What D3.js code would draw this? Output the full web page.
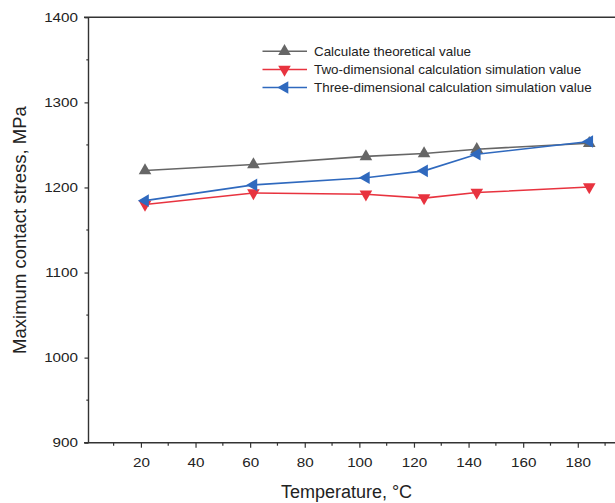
<!DOCTYPE html>
<html>
<head>
<meta charset="utf-8">
<script src="https://cdn.jsdelivr.net/npm/d3@7/dist/d3.min.js"></script>
<style>
  html, body { margin: 0; padding: 0; background: #fff; }
  svg { display: block; font-family: "Liberation Sans", Arial, sans-serif; }
</style>
</head>
<body>
<svg id="chart" width="615" height="503"></svg>
<script>
// ---- data ----
const temperatures = [21.5, 61.2, 102.4, 123.7, 143, 184.2];
const theoretical   = [1220, 1227, 1236.5, 1240, 1245, 1252];
const twoDim        = [1180, 1193.5, 1192, 1187.5, 1194, 1200.5];
const threeDim      = [1184.5, 1203, 1211.5, 1219.5, 1239, 1254];
const seriesNames = [
  "Calculate theoretical value",
  "Two-dimensional calculation simulation value",
  "Three-dimensional calculation simulation value"
];
const xTickValues = [20, 40, 60, 80, 100, 120, 140, 160, 180];
const xMinorTicks = [10, 30, 50, 70, 90, 110, 130, 150, 170, 190];
const yTickValues = [900, 1000, 1100, 1200, 1300, 1400];
const yMinorTicks = [950, 1050, 1150, 1250, 1350];
const xTitle = "Temperature, °C";
const yTitle = "Maximum contact stress, MPa";

// ---- layout ----
const svg = d3.select("#chart");
const plotLeft = 88.5, plotTop = 17.3, plotBottom = 442.7;
const x = d3.scaleLinear().domain([0.8, 200]).range([plotLeft, 632.4]);
const y = d3.scaleLinear().domain([900, 1400]).range([plotBottom, plotTop]);
const axisColor = "#333";
const sx = 1.27; // horizontal stretch of tick labels in the reference

// top frame line
svg.append("line")
  .attr("x1", plotLeft - 4.5).attr("x2", 615)
  .attr("y1", y(1400)).attr("y2", y(1400))
  .attr("stroke", axisColor).attr("stroke-width", 1.4);

// y axis
const gy = svg.append("g").attr("transform", `translate(${plotLeft},0)`)
  .call(d3.axisLeft(y).tickValues(yTickValues).tickSize(4).tickPadding(10.5).tickFormat(d3.format("d")));
gy.select(".domain").attr("stroke", axisColor).attr("stroke-width", 1.4).attr("d", `M0,${y(1400)}V${y(900)}`);
gy.selectAll(".tick line").attr("stroke", axisColor).attr("stroke-width", 1.2);
gy.selectAll(".tick text")
  .attr("font-size", 12).attr("fill", "#222")
  .attr("x", -10.5 / sx).attr("transform", `scale(${sx},1)`);
gy.selectAll(".minor").data(yMinorTicks).enter().append("line")
  .attr("x1", -2.2).attr("x2", 0).attr("y1", d => y(d)).attr("y2", d => y(d))
  .attr("stroke", axisColor).attr("stroke-width", 1.2);

// x axis
const gx = svg.append("g").attr("transform", `translate(0,${plotBottom})`)
  .call(d3.axisBottom(x).tickValues(xTickValues).tickSize(5).tickPadding(11));
gx.select(".domain").attr("stroke", axisColor).attr("stroke-width", 1.4).attr("d", `M${plotLeft - 4.5},0H615`);
gx.selectAll(".tick line").attr("stroke", axisColor).attr("stroke-width", 1.2);
gx.selectAll(".tick text")
  .attr("font-size", 12).attr("fill", "#222")
  .attr("transform", `scale(${sx},1)`);
gx.selectAll(".minor").data(xMinorTicks).enter().append("line")
  .attr("x1", d => x(d)).attr("x2", d => x(d)).attr("y1", 0).attr("y2", 3)
  .attr("stroke", axisColor).attr("stroke-width", 1.2);

// axis titles
svg.append("text")
  .attr("x", 346.5).attr("y", 498)
  .attr("text-anchor", "middle").attr("font-size", 18).attr("fill", "#222")
  .text(xTitle);
svg.append("text")
  .attr("transform", `translate(25.5,${(plotTop + plotBottom) / 2}) rotate(-90)`)
  .attr("text-anchor", "middle").attr("font-size", 18.5).attr("fill", "#222")
  .text(yTitle);

// ---- series ----
const series = [
  { name: seriesNames[0], values: theoretical, color: "#666666", marker: "up" },
  { name: seriesNames[1], values: twoDim,      color: "#e8333f", marker: "down" },
  { name: seriesNames[2], values: threeDim,    color: "#2f69be", marker: "left" }
];
const markerPath = {
  up:   "M0,-7.2L6.3,3.8L-6.3,3.8Z",
  down: "M0,7.2L6.3,-3.8L-6.3,-3.8Z",
  left: "M-7.2,0L3.8,-6.3L3.8,6.3Z"
};
const line = d3.line().x(d => x(d[0])).y(d => y(d[1]));

series.forEach(s => {
  const pts = temperatures.map((t, i) => [t, s.values[i]]);
  const g = svg.append("g");
  g.append("path").datum(pts).attr("d", line)
    .attr("fill", "none").attr("stroke", s.color).attr("stroke-width", 1.6);
  g.selectAll("path.m").data(pts).enter().append("path").attr("class", "m")
    .attr("d", markerPath[s.marker])
    .attr("transform", d => `translate(${x(d[0])},${y(d[1])})`)
    .attr("fill", s.color);
});

// ---- legend ----
const legend = svg.append("g");
const legRows = [51.3, 69.5, 87.5];
series.forEach((s, i) => {
  const ly = legRows[i];
  legend.append("line").attr("x1", 262.5).attr("x2", 307).attr("y1", ly).attr("y2", ly)
    .attr("stroke", s.color).attr("stroke-width", 1.6);
  legend.append("path").attr("d", markerPath[s.marker])
    .attr("transform", `translate(284.5,${ly})`).attr("fill", s.color);
  legend.append("text").attr("x", 314).attr("y", ly + 4.6)
    .attr("font-size", 13.4).attr("fill", "#222").text(s.name);
});
</script>
</body>
</html>
